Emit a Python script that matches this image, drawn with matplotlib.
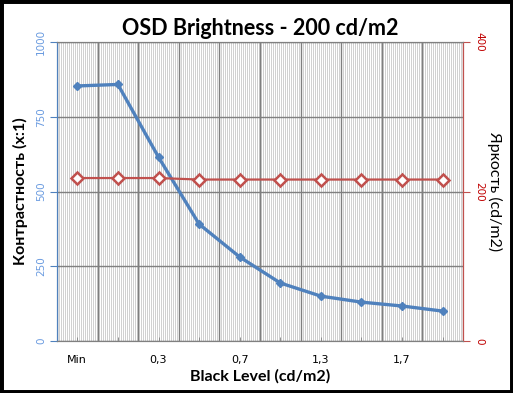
import numpy as np
import matplotlib
matplotlib.use("Agg")
from matplotlib import pyplot as plt
from matplotlib.patches import Rectangle

categories = ["Min", "0,2", "0,3", "0,5", "0,7", "1,0", "1,3", "1,5", "1,7", "2,0"]
contrast = [853, 858, 615, 391, 281, 194, 150, 130, 117, 100]
brightness = [218, 218, 218, 216, 216, 216, 216, 216, 216, 216]

blue = "#4F81BD"
red = "#C0504D"

fig = plt.figure(figsize=(5.13, 3.93), dpi=100)
ax = fig.add_axes([57/513, 1 - 341/393, 406/513, 299/393])
ax2 = ax.twinx()

x = np.arange(len(categories))

# striped plot background
stripes = np.tile([1.0, 0.0], 203).reshape(1, -1)
ax.imshow(stripes, cmap="gray_r", vmin=0, vmax=5.5, aspect="auto",
          extent=[0, 1, 0, 1], transform=ax.transAxes,
          interpolation="nearest", zorder=0)

ax.plot(x, contrast, color=blue, lw=2.4, marker="D", ms=4.5,
        mfc=blue, mec=blue, zorder=5)
ax2.plot(x, brightness, color=red, lw=1.6, marker="D", ms=6,
         mfc="white", mec=red, mew=1.8, zorder=5)

ax.set_xlim(-0.5, len(categories) - 0.5)
ax.set_ylim(0, 1000)
ax2.set_ylim(0, 400)

ax.set_yticks([0, 250, 500, 750, 1000])
ax2.set_yticks([0, 200, 400])

# category boundaries as major ticks/gridlines, labels at centers
ax.set_xticks(np.arange(len(categories) + 1) - 0.5)
ax.set_xticklabels([])
ax.set_xticks(x, minor=True)
ax.set_xticklabels([c if i % 2 == 0 else "" for i, c in enumerate(categories)],
                   minor=True, fontsize=8)
ax.tick_params(axis="x", which="major", length=0)
ax.tick_params(axis="x", which="minor", direction="in", length=3,
               color="#808080", pad=10)

ax.grid(True, which="major", color="#7F7F7F", lw=1)
ax.set_axisbelow(True)

ax.tick_params(axis="y", colors=blue, labelsize=7.5, length=5, pad=3,
               labelrotation=90)
for t in ax.get_yticklabels():
    t.set_va("center")
    t.set_color("#6A9BE0")
ax2.tick_params(axis="y", colors=red, labelsize=7.5, length=5, pad=3,
                labelrotation=-90)
for t in ax2.get_yticklabels():
    t.set_va("center")
    t.set_color("#C00000")

for a in (ax, ax2):
    a.spines["top"].set_color("#808080")
    a.spines["bottom"].set_color("#808080")
    a.spines["left"].set_color(blue)
    a.spines["right"].set_color(red)

ax.set_title("OSD Brightness - 200 cd/m2", fontsize=15.5, fontweight="bold",
             family="Lato", pad=5)
ax.set_xlabel("Black Level (cd/m2)", fontsize=11.5, fontweight="bold",
              family="Lato", labelpad=3)
ax.set_ylabel("Контрастность (x:1)", fontsize=11.5, fontweight="bold",
              family="Lato", labelpad=6)
ax2.set_ylabel("Яркость (cd/m2)", fontsize=11.5, family="Lato",
               rotation=-90, va="bottom", labelpad=2)

fig.patches.append(Rectangle((0, 0), 1, 1, transform=fig.transFigure,
                             fill=False, ec="black", lw=5))

fig.savefig("out.png", dpi=100)
